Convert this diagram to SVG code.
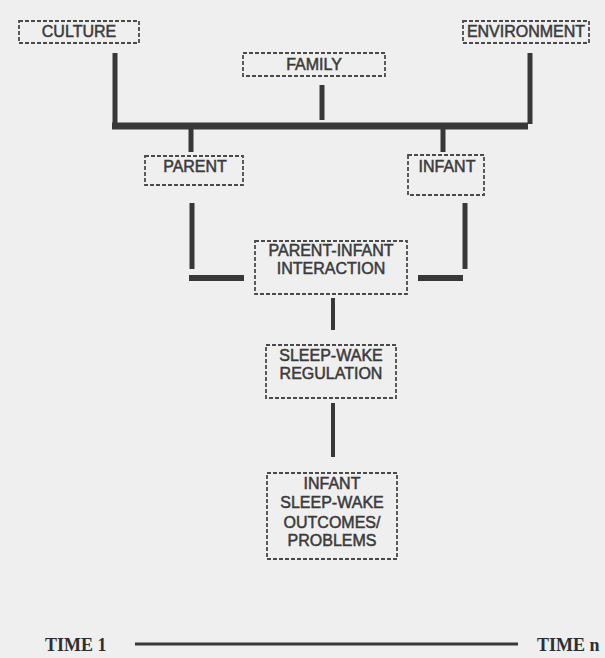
<svg xmlns="http://www.w3.org/2000/svg" width="605" height="658" viewBox="0 0 605 658">
<style>
.box{fill:none;stroke:#4a4a4a;stroke-width:1.8;stroke-dasharray:4 2}
.t{font-family:"Liberation Sans",Arial,sans-serif;font-size:16px;fill:#3a3a3a;stroke:#3a3a3a;stroke-width:0.5;text-anchor:middle}
.tm{font-family:"Liberation Serif","Times New Roman",serif;font-size:18px;font-weight:bold;fill:#2e2e2e}
.c{stroke:#383838;fill:none}
</style>
<rect width="605" height="658" fill="#efefef"/>
<g id="connectors">
<line class="c" x1="115" y1="53" x2="115" y2="124" stroke-width="5"/>
<line class="c" x1="322" y1="85" x2="322" y2="120" stroke-width="5"/>
<line class="c" x1="530" y1="53" x2="530" y2="124" stroke-width="5"/>
<line class="c" x1="112" y1="126" x2="528" y2="126" stroke-width="7"/>
<line class="c" x1="191" y1="129" x2="191" y2="152" stroke-width="5"/>
<line class="c" x1="443" y1="129" x2="443" y2="152" stroke-width="5"/>
<line class="c" x1="192" y1="203" x2="192" y2="269" stroke-width="5"/>
<line class="c" x1="189" y1="278" x2="244" y2="278" stroke-width="6"/>
<line class="c" x1="465" y1="203" x2="465" y2="269" stroke-width="5"/>
<line class="c" x1="418" y1="278" x2="463" y2="278" stroke-width="6"/>
<line class="c" x1="333" y1="298" x2="333" y2="330" stroke-width="4"/>
<line class="c" x1="333" y1="403" x2="333" y2="457" stroke-width="4"/>
<line class="c" x1="135" y1="644" x2="518" y2="644" stroke-width="3"/>
</g>
<g id="culture"><rect class="box" x="19" y="21" width="120" height="22"/><text class="t" x="79" y="37">CULTURE</text></g>
<g id="environment"><rect class="box" x="463" y="21" width="126" height="22"/><text class="t" x="526" y="37">ENVIRONMENT</text></g>
<g id="family"><rect class="box" x="243" y="53" width="142" height="23"/><text class="t" x="314" y="70">FAMILY</text></g>
<g id="parent"><rect class="box" x="145" y="156" width="98" height="29"/><text class="t" x="195" y="172">PARENT</text></g>
<g id="infant"><rect class="box" x="408" y="155" width="76" height="40"/><text class="t" x="447" y="172">INFANT</text></g>
<g id="interaction"><rect class="box" x="255" y="241" width="152" height="53"/><text class="t" x="331" y="256">PARENT-INFANT</text><text class="t" x="331" y="274">INTERACTION</text></g>
<g id="regulation"><rect class="box" x="266" y="345" width="130" height="53"/><text class="t" x="331" y="361">SLEEP-WAKE</text><text class="t" x="331" y="379">REGULATION</text></g>
<g id="outcomes"><rect class="box" x="267" y="473" width="130" height="86"/><text class="t" x="332" y="489">INFANT</text><text class="t" x="332" y="508">SLEEP-WAKE</text><text class="t" x="332" y="528">OUTCOMES/</text><text class="t" x="332" y="546">PROBLEMS</text></g>
<g id="time1"><text class="tm" x="45" y="651">TIME 1</text></g>
<g id="timen"><text class="tm" x="537" y="651">TIME n</text></g>
</svg>
